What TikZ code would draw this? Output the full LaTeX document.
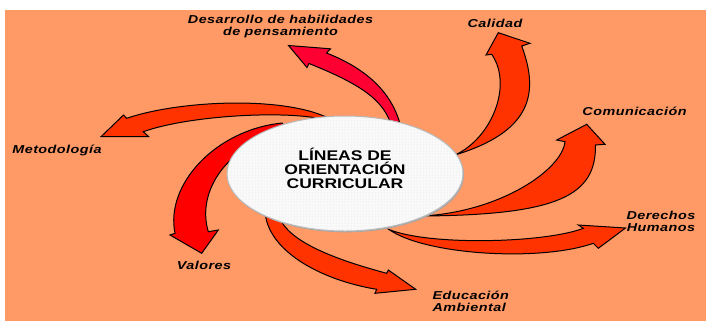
\documentclass[tikz,border=0pt]{standalone}
\usepackage{fontspec}
\setmainfont{Liberation Sans}
\newfontfamily\etiq[FakeStretch=1.25,LetterSpace=4]{Liberation Sans}
\newfontfamily\titfont[FakeStretch=1.25]{Liberation Sans}
\usetikzlibrary{patterns,shadows,shapes.geometric}

\definecolor{fondo}{RGB}{255,153,102}
\definecolor{naranja}{RGB}{255,51,0}
\definecolor{carmin}{RGB}{255,0,51}
\definecolor{rojo}{RGB}{255,0,0}

\tikzset{
  flecha/.style={draw=black,line width=1pt,fill=#1},
  etiqueta/.style={font=\etiq\bfseries\itshape\fontsize{11.5}{12}\selectfont,align=center,inner sep=0pt},
  nucleo/.style={ellipse,minimum width=236pt,minimum height=115pt,inner sep=0pt,
    drop shadow={fill=gray!70,opacity=1,shadow xshift=1pt,shadow yshift=-1.3pt},
    preaction={fill=gray!4},draw=gray!55,line width=1pt,pattern=dots,pattern color=gray!30},
}

\begin{document}
\begin{tikzpicture}[x=1pt,y=-1pt]
  \useasboundingbox (0,0) rectangle (706,322);
  \fill[fondo] (4.5,10) rectangle (706,321);

  \draw[flecha=carmin] (288.5,45.5) -- (330.5,48.8) -- (326.5,53) .. controls (365,68) and (393,92) .. (401,128)
    -- (392,128) .. controls (385,100) and (360,84) .. (309,63.5) -- (307,67.5) -- cycle;
  \draw[flecha=naranja] (498.3,32.7) -- (530,43.3) -- (521.7,46) .. controls (540,95) and (530,132) .. (455,155)
    .. controls (492,138) and (513,85) .. (491.7,54.3) -- (486,55) -- cycle;
  \draw[flecha=naranja] (586.7,124.3) -- (605,144.3) -- (595.5,145) .. controls (596,195) and (560,215) .. (422,216)
    .. controls (500,212) and (562,170) .. (565,141.7) -- (556.7,140) -- cycle;
  \draw[flecha=naranja] (625.5,228) -- (598.3,248.3) -- (593.3,243.3) .. controls (540,262) and (425,255) .. (389,229.5)
    .. controls (430,246) and (545,243) .. (583.3,228.3) -- (578.3,225) -- cycle;
  \draw[flecha=naranja] (415.7,289.3) -- (375,293.3) -- (376.7,289.3) .. controls (320,280) and (266,250) .. (265,210)
    -- (279,216) .. controls (288,244) and (345,262) .. (386.7,273.3) -- (388.3,270) -- cycle;
  \draw[flecha=rojo] (201.7,253.3) -- (218.3,230) -- (208.3,231.7) .. controls (196,190) and (228,145) .. (287,130)
    -- (282,123) .. controls (215,130) and (165,185) .. (175,233.3) -- (170,235) -- cycle;
  \draw[flecha=naranja] (101.2,136.5) -- (123.5,115) -- (126.7,118.3) .. controls (180,100) and (290,95) .. (334,121)
    -- (326,120) .. controls (290,110) and (190,115) .. (143.3,131.7) -- (148.5,136.5) -- cycle;

  \node[nucleo] (lin) at (345,173.5) {};
  \node[font=\titfont\bfseries\fontsize{14}{13.7}\selectfont,align=center,inner sep=0pt] (tit) at (345,168.5)
    {LÍNEAS DE\\ORIENTACIÓN\\CURRICULAR};

  \node[etiqueta] (desa) at (280.5,27) {Desarrollo de habilidades\\de pensamiento};
  \node[etiqueta] (cal) at (495,23.3) {Calidad};
  \node[etiqueta] (comu) at (634.5,111.5) {Comunicación};
  \node[etiqueta] (dere) at (661,221.6) {Derechos\\Humanos};
  \node[etiqueta,align=left,anchor=west] (edu) at (432.4,301) {Educación\\Ambiental};
  \node[etiqueta] (val) at (204,265) {Valores};
  \node[etiqueta] (meto) at (57,150.4) {Metodología};
\end{tikzpicture}
\end{document}
